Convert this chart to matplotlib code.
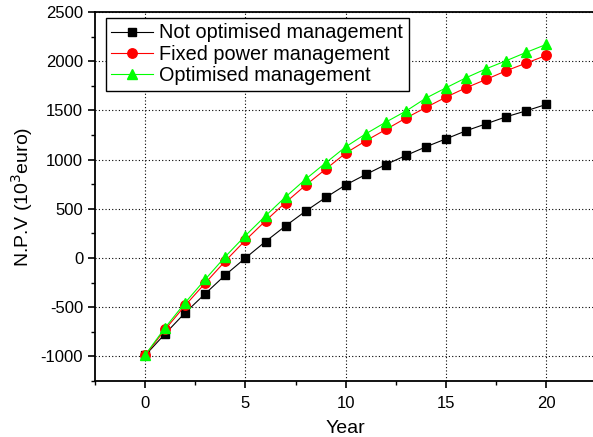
import matplotlib
matplotlib.use("Agg")
import matplotlib.pyplot as plt
from matplotlib.ticker import MultipleLocator

plt.rcParams['font.family'] = ['Liberation Sans', 'DejaVu Sans']
plt.rcParams['axes.unicode_minus'] = False

years = list(range(0, 21))
not_optimised = [-990, -769, -555, -362, -172, 0, 167, 326, 476, 615, 743,
                 849, 950, 1042, 1130, 1211, 1293, 1364, 1435, 1496, 1561]
fixed_power = [-990, -725, -481, -254, -30, 181, 377, 564, 740, 903, 1066,
               1191, 1306, 1422, 1530, 1635, 1730, 1815, 1903, 1981, 2059]
optimised = [-985, -707, -453, -216, 15, 228, 428, 621, 801, 967, 1130,
             1262, 1381, 1493, 1625, 1730, 1832, 1923, 2005, 2090, 2171]

labels = ["Not optimised management", "Fixed power management", "Optimised management"]

fig = plt.figure(figsize=(5.93, 4.37), dpi=100)
ax = fig.add_axes([95/593, 1 - 381/437, (596.5 - 95)/593, (381 - 12)/437])

ax.plot(years, not_optimised, color='black', lw=0.8, marker='s', ms=5.8,
        mfc='black', mec='black', label=labels[0], zorder=3)
ax.plot(years, fixed_power, color='red', lw=0.8, marker='o', ms=6.8,
        mfc='red', mec='red', label=labels[1], zorder=4)
ax.plot(years, optimised, color='#00ff00', lw=0.8, marker='^', ms=7.2,
        mfc='#00ff00', mec='#00ff00', label=labels[2], zorder=5)

ax.set_xlim(-2.5, 22.5)
ax.set_ylim(-1250, 2500)
ax.xaxis.set_major_locator(MultipleLocator(5))
ax.xaxis.set_minor_locator(MultipleLocator(2.5))
ax.yaxis.set_major_locator(MultipleLocator(500))
ax.yaxis.set_minor_locator(MultipleLocator(250))
ax.tick_params(which='major', direction='out', length=5, width=1.2, labelsize=12)
ax.tick_params(which='minor', direction='out', length=3, width=1.0)
ax.tick_params(axis='x', pad=6)
ax.grid(True, which='major', color='black', linestyle=(0, (1, 2)), linewidth=0.8)
for s in ax.spines.values():
    s.set_linewidth(1.3)

ax.set_xlabel("Year", fontsize=14, labelpad=6)
ax.set_ylabel("N.P.V (10$^3$euro)", fontsize=14, labelpad=4)

leg = ax.legend(loc='upper left', bbox_to_anchor=(0.021, 0.985), fontsize=14.3,
                frameon=True, fancybox=False, edgecolor='black', framealpha=1,
                handlelength=2.1, handletextpad=0.3, borderpad=0.3, labelspacing=0.12,
                borderaxespad=0)
leg.get_frame().set_linewidth(1.0)

fig.savefig("out.png", dpi=100)
